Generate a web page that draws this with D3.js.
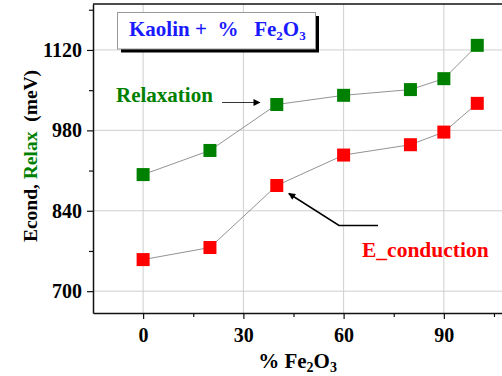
<!DOCTYPE html>
<html>
<head>
<meta charset="utf-8">
<script src="https://cdn.jsdelivr.net/npm/d3@7"></script>
<style>
  html, body { margin: 0; padding: 0; background: #fff; }
</style>
</head>
<body>
<div id="chart"></div>
<script>
// data
const fe2o3 = [0, 20, 40, 60, 80, 90, 100];
const relaxation = [903, 945, 1025, 1041, 1051, 1070, 1128];
const conduction = [755, 776, 884, 937, 955, 977, 1027];
const xTicks = [0, 30, 60, 90];
const yTicks = [700, 840, 980, 1120];
const xMinor = [15, 45, 75, 105];
const yMinor = [770, 910, 1050, 1190];

const FONT = "'Liberation Serif', 'DejaVu Serif', 'Times New Roman', Times, serif";
const width = 502, height = 376;
const margin = {top: 4, right: -2, bottom: 63, left: 93};

const svg = d3.select('#chart')
  .append('svg')
  .attr('width', width)
  .attr('height', height)
  .attr('font-family', FONT)
  .attr('font-weight', 'bold');

const x = d3.scaleLinear()
  .domain([-15, 108])
  .range([margin.left, width - margin.right]);

const y = d3.scaleLinear()
  .domain([662, 1200])
  .range([height - margin.bottom, margin.top]);

// grid
svg.append('g')
  .selectAll('line')
  .data(xTicks)
  .enter().append('line')
  .attr('x1', d => x(d)).attr('x2', d => x(d))
  .attr('y1', y.range()[0]).attr('y2', y.range()[1])
  .attr('stroke', '#cfcfcf').attr('stroke-width', 1);

svg.append('g')
  .selectAll('line')
  .data(yTicks)
  .enter().append('line')
  .attr('x1', x.range()[0]).attr('x2', x.range()[1])
  .attr('y1', d => y(d)).attr('y2', d => y(d))
  .attr('stroke', '#cfcfcf').attr('stroke-width', 1);

// frame (top edge)
svg.append('line')
  .attr('x1', x.range()[0]).attr('x2', x.range()[1])
  .attr('y1', y.range()[1]).attr('y2', y.range()[1])
  .attr('stroke', '#111').attr('stroke-width', 1.5);

// axes
svg.append('g')
  .attr('transform', `translate(0,${y.range()[0]})`)
  .call(d3.axisBottom(x).tickValues(xTicks).tickSize(6).tickSizeOuter(0).tickPadding(9).tickFormat(d3.format('d')));
svg.append('g')
  .attr('transform', `translate(0,${y.range()[0]})`)
  .call(d3.axisBottom(x).tickValues(xMinor).tickSize(4).tickSizeOuter(0).tickFormat(''))
  .select('.domain').remove();

svg.append('g')
  .attr('transform', `translate(${x.range()[0]},0)`)
  .call(d3.axisLeft(y).tickValues(yTicks).tickSize(6).tickSizeOuter(0).tickPadding(5).tickFormat(d3.format('d')));
svg.append('g')
  .attr('transform', `translate(${x.range()[0]},0)`)
  .call(d3.axisLeft(y).tickValues(yMinor).tickSize(4).tickSizeOuter(0).tickFormat(''))
  .select('.domain').remove();

svg.selectAll('g').attr('font-family', FONT);
svg.selectAll('.domain').attr('stroke', '#111').attr('stroke-width', 1.5);
svg.selectAll('.tick line').attr('stroke', '#111').attr('stroke-width', 1.2);
svg.selectAll('.tick text')
  .attr('fill', '#000')
  .attr('font-size', 20)
  .attr('font-weight', 'bold')
  .attr('font-family', FONT);

// axis titles
const xTitle = svg.append('text')
  .attr('x', (x.range()[0] + width) / 2)
  .attr('y', 367.5)
  .attr('text-anchor', 'middle')
  .attr('font-size', 21);
xTitle.append('tspan').text('% Fe');
xTitle.append('tspan').text('2').attr('dy', 4).attr('font-size', 14);
xTitle.append('tspan').text('O').attr('dy', -4);
xTitle.append('tspan').text('3').attr('dy', 4).attr('font-size', 14);

const yTitle = svg.append('text')
  .attr('transform', `translate(37,156) rotate(-90)`)
  .attr('text-anchor', 'middle')
  .attr('font-size', 19.5);
yTitle.append('tspan').text('Econd, ').attr('fill', '#000');
yTitle.append('tspan').text('Relax').attr('fill', '#008000');
yTitle.append('tspan').text('\u00a0 (meV)').attr('fill', '#000');

// series
const series = [
  {values: relaxation, color: '#008000'},
  {values: conduction, color: '#ff0000'}
];
const line = d3.line()
  .x((d, i) => x(fe2o3[i]))
  .y(d => y(d));
const ms = 13;

series.forEach(s => {
  svg.append('path')
    .datum(s.values)
    .attr('fill', 'none')
    .attr('stroke', '#777')
    .attr('stroke-width', 0.8)
    .attr('d', line);
  svg.append('g')
    .selectAll('rect')
    .data(s.values)
    .enter().append('rect')
    .attr('x', (d, i) => x(fe2o3[i]) - ms / 2)
    .attr('y', d => y(d) - ms / 2)
    .attr('width', ms)
    .attr('height', ms)
    .attr('fill', s.color);
});

// arrow marker
svg.append('defs').append('marker')
  .attr('id', 'arrow')
  .attr('viewBox', '0 0 10 10')
  .attr('refX', 9).attr('refY', 5)
  .attr('markerWidth', 10).attr('markerHeight', 7)
  .attr('markerUnits', 'userSpaceOnUse')
  .attr('orient', 'auto')
  .append('path')
  .attr('d', 'M0,0 L10,5 L0,10 z')
  .attr('fill', '#000');

// Relaxation annotation
svg.append('text')
  .attr('x', 116)
  .attr('y', 102)
  .attr('fill', '#008000')
  .attr('font-size', 21)
  .text('Relaxation');
svg.append('line')
  .attr('x1', 222).attr('y1', 102.5)
  .attr('x2', x(40) - 17).attr('y2', 102.5)
  .attr('stroke', '#000').attr('stroke-width', 0.8)
  .attr('marker-end', 'url(#arrow)');

// E_conduction annotation
svg.append('text')
  .attr('x', 362)
  .attr('y', 257)
  .attr('fill', '#ff0000')
  .attr('font-size', 21.5)
  .text('E_conduction');
svg.append('path')
  .attr('d', `M378,225.5 L339,225.5 L${x(40) + 12},${y(conduction[2]) + 8}`)
  .attr('fill', 'none')
  .attr('stroke', '#000').attr('stroke-width', 1.5)
  .attr('marker-end', 'url(#arrow)');

// title box
const box = svg.append('g');
box.append('rect')
  .attr('x', 121).attr('y', 16)
  .attr('width', 198).attr('height', 36.5)
  .attr('fill', '#000');
box.append('rect')
  .attr('x', 117.5).attr('y', 12.5)
  .attr('width', 198).attr('height', 36.5)
  .attr('fill', '#fff')
  .attr('stroke', '#999').attr('stroke-width', 1);
const title = box.append('text')
  .attr('x', 129)
  .attr('y', 36)
  .attr('fill', '#1a1aff')
  .attr('font-size', 21);
title.append('tspan').text('Kaolin +\u00a0 %\u00a0\u00a0 Fe');
title.append('tspan').text('2').attr('dy', 4).attr('font-size', 13);
title.append('tspan').text('O').attr('dy', -4);
title.append('tspan').text('3').attr('dy', 4).attr('font-size', 13);
</script>
</body>
</html>
